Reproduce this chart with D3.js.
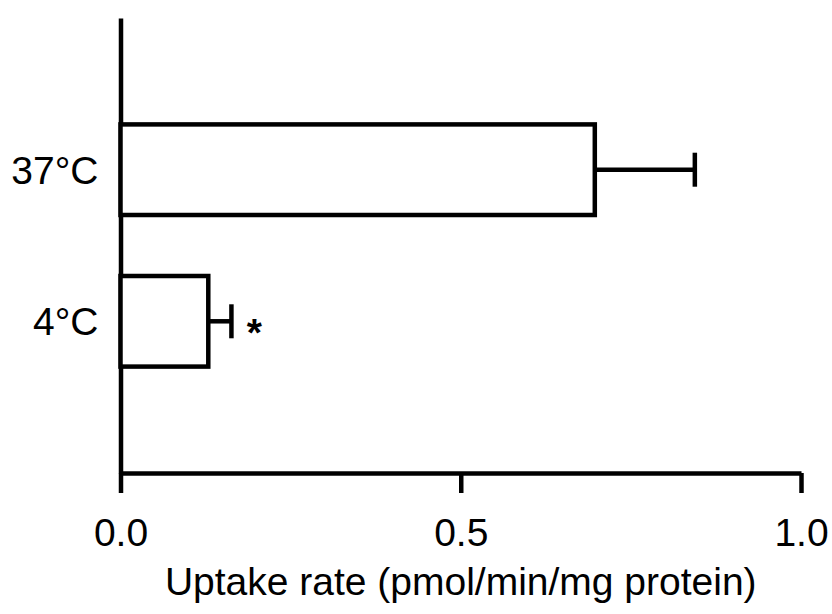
<!DOCTYPE html>
<html>
<head>
<meta charset="utf-8">
<script src="https://cdn.jsdelivr.net/npm/d3@7"></script>
<style>
  body { margin: 0; background: #fff; }
  svg { display: block; font-family: "Liberation Sans", Arial, sans-serif; }
</style>
</head>
<body>
<svg width="832" height="614"></svg>
<script>
// data
const groups = ['37°C', '4°C'];
const means = [0.697, 0.129];
const errors = [0.147, 0.034];
const marks = ['', '*'];
const xTicks = [0, 0.5, 1.0];

const lw = 4.5;
const fs = '39px';
const svg = d3.select('svg');

const x = d3.scaleLinear().domain([0, 1]).range([120.5, 801]);
const y = d3.scaleBand().domain(groups).range([18, 473])
  .paddingInner(0.4024).paddingOuter(0.702);

// x axis
const xAxis = d3.axisBottom(x)
  .tickValues(xTicks)
  .tickFormat(d3.format('.1f'))
  .tickSize(20)
  .tickSizeOuter(0)
  .tickPadding(25);

const gx = svg.append('g')
  .attr('transform', `translate(0, 473)`)
  .call(xAxis);
gx.selectAll('path, line').attr('stroke', '#000').attr('stroke-width', lw);
gx.selectAll('text').attr('font-size', fs).attr('fill', '#000')
  .attr('font-family', '"Liberation Sans", Arial, sans-serif');

// y axis
const yAxis = d3.axisLeft(y).tickSize(0).tickSizeOuter(0).tickPadding(22);
const gy = svg.append('g')
  .attr('transform', `translate(120.5, 0)`)
  .call(yAxis);
gy.select('.domain').attr('stroke', '#000').attr('stroke-width', lw);
gy.selectAll('line').remove();
gy.selectAll('text').attr('font-size', fs).attr('fill', '#000').attr('dy', '0.36em')
  .attr('font-family', '"Liberation Sans", Arial, sans-serif');

// bars
const rows = groups.map((g, i) => ({ g, m: means[i], e: errors[i], mark: marks[i] }));

svg.selectAll('rect.bar')
  .data(rows)
  .enter()
  .append('rect')
    .attr('class', 'bar')
    .attr('x', x(0))
    .attr('y', (d) => y(d.g))
    .attr('width', (d) => x(d.m) - x(0))
    .attr('height', y.bandwidth())
    .attr('fill', '#fff')
    .attr('stroke', '#000')
    .attr('stroke-width', lw)
;

const cy = (d) => y(d.g) + y.bandwidth() / 2;

// error bars
svg.selectAll('line.err')
  .data(rows)
  .enter()
  .append('line')
    .attr('class', 'err')
    .attr('x1', (d) => x(d.m))
    .attr('x2', (d) => x(d.m + d.e))
    .attr('y1', cy)
    .attr('y2', cy)
    .attr('stroke', '#000')
    .attr('stroke-width', lw)
;

svg.selectAll('line.cap')
  .data(rows)
  .enter()
  .append('line')
    .attr('class', 'cap')
    .attr('x1', (d) => x(d.m + d.e))
    .attr('x2', (d) => x(d.m + d.e))
    .attr('y1', (d) => cy(d) - 17)
    .attr('y2', (d) => cy(d) + 17)
    .attr('stroke', '#000')
    .attr('stroke-width', lw)
;

// significance marks
svg.selectAll('text.mark')
  .data(rows.filter((d) => d.mark))
  .enter()
  .append('text')
    .attr('class', 'mark')
    .attr('x', (d) => x(d.m + d.e) + 23)
    .attr('y', (d) => cy(d) + 25)
    .attr('text-anchor', 'middle')
    .attr('font-size', fs)
    .attr('font-weight', 'bold')
    .text((d) => d.mark)
;

// axis title
svg.append('text')
  .attr('x', (x(0) + x(1)) / 2)
  .attr('y', 595)
  .attr('text-anchor', 'middle')
  .attr('font-size', fs)
  .text('Uptake rate (pmol/min/mg protein)');
</script>
</body>
</html>
